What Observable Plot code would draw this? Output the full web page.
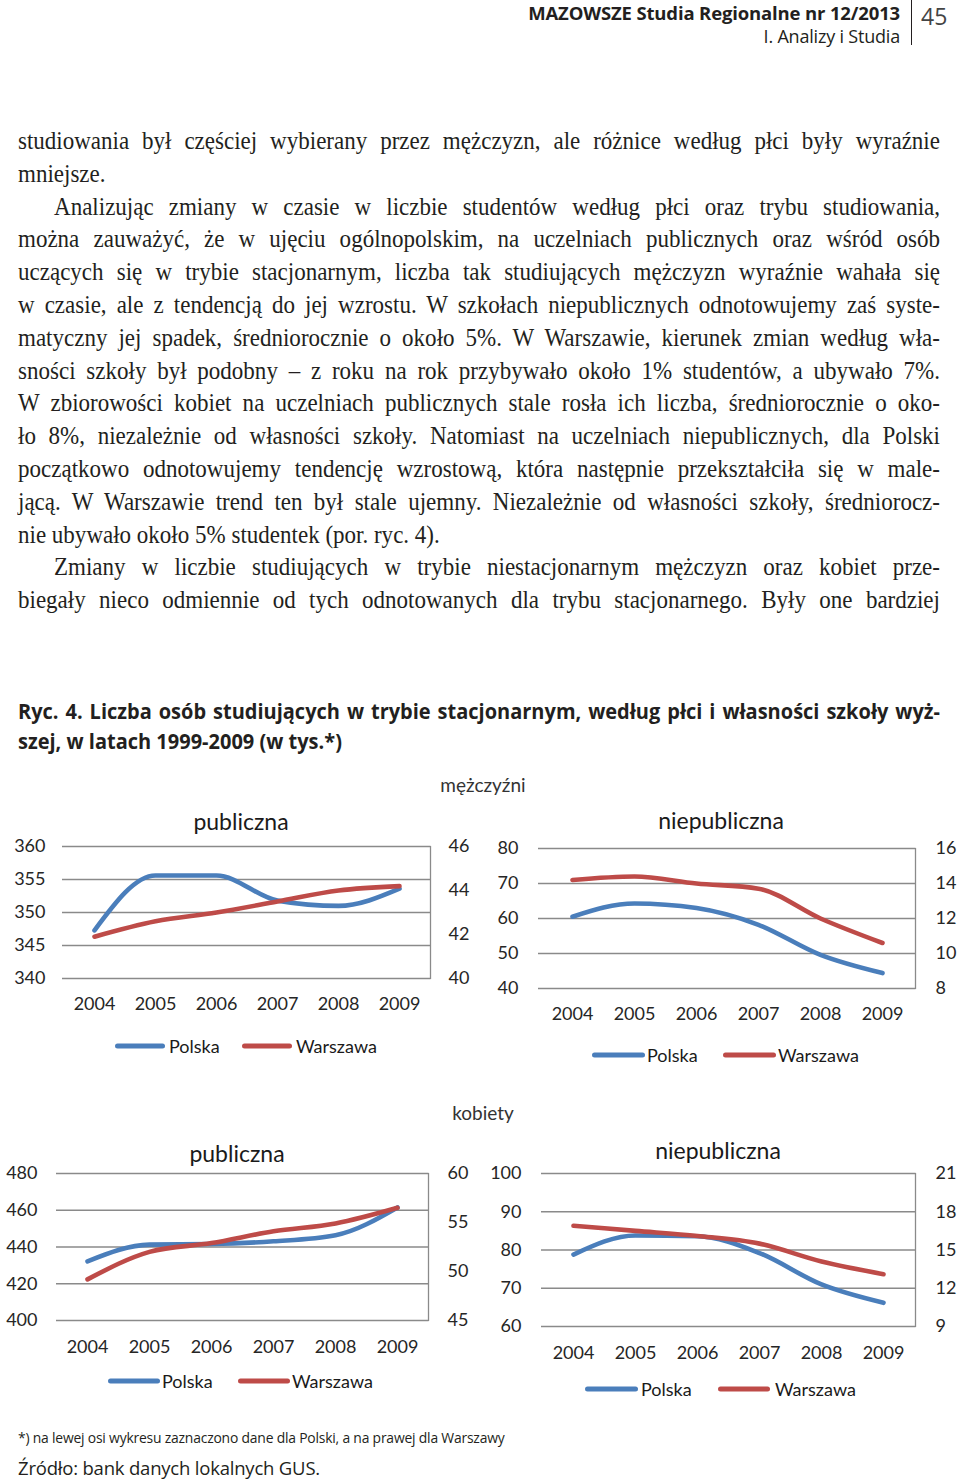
<!DOCTYPE html>
<html lang="pl">
<head>
<meta charset="utf-8">
<script src="https://cdn.jsdelivr.net/npm/d3@7"></script>
<script src="https://cdn.jsdelivr.net/npm/@observablehq/plot@0.6"></script>
<style>
  html, body { margin: 0; padding: 0; background: #fff; }
  #page { position: relative; width: 960px; height: 1482px; overflow: hidden; color: #231f20; }
  .abs { position: absolute; white-space: nowrap; }
  .hdr { font-family: "Open Sans", sans-serif; }
  #body { position: absolute; left: 18px; top: 125px; width: 1041.8px; transform: scaleX(0.885); transform-origin: 0 0;
          font-family: "Liberation Serif", serif; font-size: 26px; line-height: 32.8px; color: #231f20; }
  #body .j { text-align: justify; text-align-last: justify; height: 32.8px; }
  #body .l { text-align: left; height: 32.8px; }
  #body .ind { padding-left: 40.7px; }
  #cap { position: absolute; left: 18px; top: 696px; width: 991.4px; transform: scaleX(0.93); transform-origin: 0 0;
         font-family: "Open Sans", sans-serif; font-weight: 700; font-size: 21.5px; line-height: 30px; color: #231f20; }
  #cap .j { text-align: justify; text-align-last: justify; height: 30px; }
  .ttl { position: absolute; font-family: Lato, sans-serif; font-size: 23px; transform: translate(-50%, -50%); color: #1a1a1a; white-space: nowrap; }
  .grp { position: absolute; font-family: Lato, sans-serif; font-size: 19px; transform: translate(-50%, -50%); color: #333; white-space: nowrap; }
  .lg { position: absolute; font-family: Lato, sans-serif; font-size: 18px; color: #1a1a1a; white-space: nowrap; transform: translateY(-50%); }
  .sw { position: absolute; height: 5px; border-radius: 3px; transform: translateY(-50%); }
  svg { overflow: visible; }
</style>
</head>
<body>
<div id="page"></div>
<script>
// ---------- data ----------
const years = ["2004", "2005", "2006", "2007", "2008", "2009"];
const seriesNames = ["Polska", "Warszawa"];

// mężczyźni – publiczna (Polska: left axis, Warszawa: right axis), tys.
const menPublicPolska   = [347.3, 355.6, 355.6, 351.8, 351.0, 353.6];
const menPublicWarszawa = [41.9, 42.6, 43.0, 43.5, 44.0, 44.2];
const menPublicLeftTicks  = [340, 345, 350, 355, 360];
const menPublicRightTicks = [40, 42, 44, 46];

// mężczyźni – niepubliczna
const menPrivatePolska   = [60.5, 64.3, 63.0, 58.2, 49.6, 44.4];
const menPrivateWarszawa = [14.2, 14.4, 14.0, 13.7, 12.0, 10.6];
const menPrivateLeftTicks  = [40, 50, 60, 70, 80];
const menPrivateRightTicks = [8, 10, 12, 14, 16];

// kobiety – publiczna
const womenPublicPolska   = [432.2, 441.3, 441.6, 443.1, 446.4, 461.5];
const womenPublicWarszawa = [49.2, 52.0, 52.9, 54.1, 54.9, 56.5];
const womenPublicLeftTicks  = [400, 420, 440, 460, 480];
const womenPublicRightTicks = [45, 50, 55, 60];

// kobiety – niepubliczna
const womenPrivatePolska   = [78.8, 83.8, 83.6, 79.2, 71.0, 66.2];
const womenPrivateWarszawa = [16.9, 16.5, 16.1, 15.5, 14.1, 13.1];
const womenPrivateLeftTicks  = [60, 70, 80, 90, 100];
const womenPrivateRightTicks = [9, 12, 15, 18, 21];

const colors = ["#4a7ebb", "#be4b48"];
const gridColor = "#8a8a8a";

const page = document.getElementById("page");

function addEl(tag, cls, text, style) {
  const e = document.createElement(tag);
  if (cls) e.className = cls;
  if (text != null) e.textContent = text;
  Object.assign(e.style, style || {});
  page.appendChild(e);
  return e;
}

// ---------- header ----------
addEl("div", "abs hdr", "MAZOWSZE Studia Regionalne nr 12/2013", {right: "60px", top: "0px", fontWeight: "700", fontSize: "18.5px", letterSpacing: "-0.15px"});
addEl("div", "abs hdr", "I. Analizy i Studia", {right: "60px", top: "24px", fontSize: "18px", letterSpacing: "-0.2px"});
addEl("div", "abs", null, {left: "911px", top: "0px", width: "1.2px", height: "45px", background: "#231f20"});
addEl("div", "abs hdr", "45", {left: "921px", top: "0px", fontSize: "23px", color: "#444"});

// ---------- body text ----------
const bodyLines = [
  ["j", "studiowania był częściej wybierany przez mężczyzn, ale różnice według płci były wyraźnie"],
  ["l", "mniejsze."],
  ["j ind", "Analizując zmiany w czasie w liczbie studentów według płci oraz trybu studiowania,"],
  ["j", "można zauważyć, że w ujęciu ogólnopolskim, na uczelniach publicznych oraz wśród osób"],
  ["j", "uczących się w trybie stacjonarnym, liczba tak studiujących mężczyzn wyraźnie wahała się"],
  ["j", "w czasie, ale z tendencją do jej wzrostu. W szkołach niepublicznych odnotowujemy zaś syste-"],
  ["j", "matyczny jej spadek, średniorocznie o około 5%. W Warszawie, kierunek zmian według wła-"],
  ["j", "sności szkoły był podobny – z roku na rok przybywało około 1% studentów, a ubywało 7%."],
  ["j", "W zbiorowości kobiet na uczelniach publicznych stale rosła ich liczba, średniorocznie o oko-"],
  ["j", "ło 8%, niezależnie od własności szkoły. Natomiast na uczelniach niepublicznych, dla Polski"],
  ["j", "początkowo odnotowujemy tendencję wzrostową, która następnie przekształciła się w male-"],
  ["j", "jącą. W Warszawie trend ten był stale ujemny. Niezależnie od własności szkoły, średniorocz-"],
  ["l", "nie ubywało około 5% studentek (por. ryc. 4)."],
  ["j ind", "Zmiany w liczbie studiujących w trybie niestacjonarnym mężczyzn oraz kobiet prze-"],
  ["j", "biegały nieco odmiennie od tych odnotowanych dla trybu stacjonarnego. Były one bardziej"]
];
const body = addEl("div", null, null, {});
body.id = "body";
for (const [cls, t] of bodyLines) {
  const d = document.createElement("div");
  d.className = cls;
  d.textContent = t;
  body.appendChild(d);
}

// ---------- figure caption ----------
const cap = addEl("div", null, null, {});
cap.id = "cap";
const c1 = document.createElement("div"); c1.className = "j";
c1.textContent = "Ryc. 4. Liczba osób studiujących w trybie stacjonarnym, według płci i własności szkoły wyż-";
const c2 = document.createElement("div");
c2.textContent = "szej, w latach 1999-2009 (w tys.*)";
cap.appendChild(c1); cap.appendChild(c2);

addEl("div", "grp", "mężczyźni", {left: "483px", top: "784px"});
addEl("div", "grp", "kobiety", {left: "483px", top: "1112px"});

// ---------- charts ----------
function makeChart(cfg) {
  const {polska, warszawa, leftTicks, rightTicks, left, top, width, height, m, lp, rp, title, titleX, titleY, legend} = cfg;
  const L0 = leftTicks[0], L1 = leftTicks[leftTicks.length - 1];
  const R0 = rightTicks[0], R1 = rightTicks[rightTicks.length - 1];
  const toLeft = v => L0 + (v - R0) * (L1 - L0) / (R1 - R0);
  const fromLeft = v => R0 + (v - L0) * (R1 - R0) / (L1 - L0);

  const data = [];
  years.forEach((y, i) => data.push({year: y, series: "Polska", value: polska[i]}));
  years.forEach((y, i) => data.push({year: y, series: "Warszawa", value: toLeft(warszawa[i])}));

  const chart = Plot.plot({
    width, height,
    marginTop: m[0], marginRight: m[1], marginBottom: m[2], marginLeft: m[3],
    style: {fontFamily: "Lato, sans-serif", fontSize: "18px", color: "#262626", background: "transparent"},
    x: {type: "point", domain: years, padding: 0.5, axis: null},
    y: {domain: [L0, L1], axis: null},
    color: {domain: seriesNames, range: colors},
    marks: [
      Plot.ruleY(leftTicks, {stroke: gridColor, strokeWidth: 1.3}),
      Plot.frame({anchor: "right", stroke: gridColor, strokeWidth: 1.3}),
      Plot.line(data, {x: "year", y: "value", stroke: "series", z: "series", curve: "monotone-x", strokeWidth: 4.6, strokeLinecap: "round", strokeLinejoin: "round"}),
      Plot.axisY({anchor: "left", ticks: leftTicks, tickSize: 0, tickPadding: lp, fontSize: 18, label: null}),
      Plot.axisY({anchor: "right", ticks: rightTicks.map(toLeft), tickSize: 0, tickPadding: rp, fontSize: 18, label: null,
        tickFormat: d => String(Math.round(fromLeft(d) * 100) / 100)}),
      Plot.axisX({anchor: "bottom", tickSize: 0, tickPadding: cfg.xp, fontSize: 18, label: null})
    ]
  });
  chart.style.position = "absolute";
  chart.style.left = left + "px";
  chart.style.top = top + "px";
  page.appendChild(chart);

  addEl("div", "ttl", title, {left: titleX + "px", top: titleY + "px"});

  // legend
  legend.items.forEach((it, i) => {
    addEl("div", "sw", null, {left: it[0] + "px", top: legend.y + "px", width: (it[1] - it[0]) + "px", background: colors[i]});
    addEl("div", "lg", seriesNames[i], {left: it[2] + "px", top: legend.y + "px"});
  });
}

makeChart({
  polska: menPublicPolska, warszawa: menPublicWarszawa,
  leftTicks: menPublicLeftTicks, rightTicks: menPublicRightTicks,
  left: 0, top: 800, width: 480, height: 222, m: [46, 50, 44, 62], lp: 17, rp: 18, xp: 19,
  title: "publiczna", titleX: 241, titleY: 821,
  legend: {y: 1046, items: [[115, 165, 169], [242, 292, 296]]}
});
makeChart({
  polska: menPrivatePolska, warszawa: menPrivateWarszawa,
  leftTicks: menPrivateLeftTicks, rightTicks: menPrivateRightTicks,
  left: 480, top: 800, width: 480, height: 222, m: [48, 45, 34, 58], lp: 20, rp: 20, xp: 19,
  title: "niepubliczna", titleX: 721, titleY: 820,
  legend: {y: 1055, items: [[592, 645, 647], [723, 776, 778]]}
});
makeChart({
  polska: womenPublicPolska, warszawa: womenPublicWarszawa,
  leftTicks: womenPublicLeftTicks, rightTicks: womenPublicRightTicks,
  left: 0, top: 1130, width: 480, height: 240, m: [43, 52, 50, 56], lp: 19, rp: 19, xp: 20,
  title: "publiczna", titleX: 237, titleY: 1153,
  legend: {y: 1381, items: [[108, 160, 162], [238, 290, 292]]}
});
makeChart({
  polska: womenPrivatePolska, warszawa: womenPrivateWarszawa,
  leftTicks: womenPrivateLeftTicks, rightTicks: womenPrivateRightTicks,
  left: 480, top: 1130, width: 480, height: 240, m: [43, 45, 44, 61], lp: 20, rp: 20, xp: 20,
  title: "niepubliczna", titleX: 718, titleY: 1150,
  legend: {y: 1389, items: [[585, 638, 641], [718, 770, 775]]}
});

// ---------- footnotes ----------
addEl("div", "abs hdr", "*) na lewej osi wykresu zaznaczono dane dla Polski, a na prawej dla Warszawy", {left: "18px", top: "1428px", fontSize: "13.9px", letterSpacing: "-0.2px"});
addEl("div", "abs hdr", "Źródło: bank danych lokalnych GUS.", {left: "18px", top: "1455px", fontSize: "18.5px", letterSpacing: "-0.2px"});
</script>
</body>
</html>
